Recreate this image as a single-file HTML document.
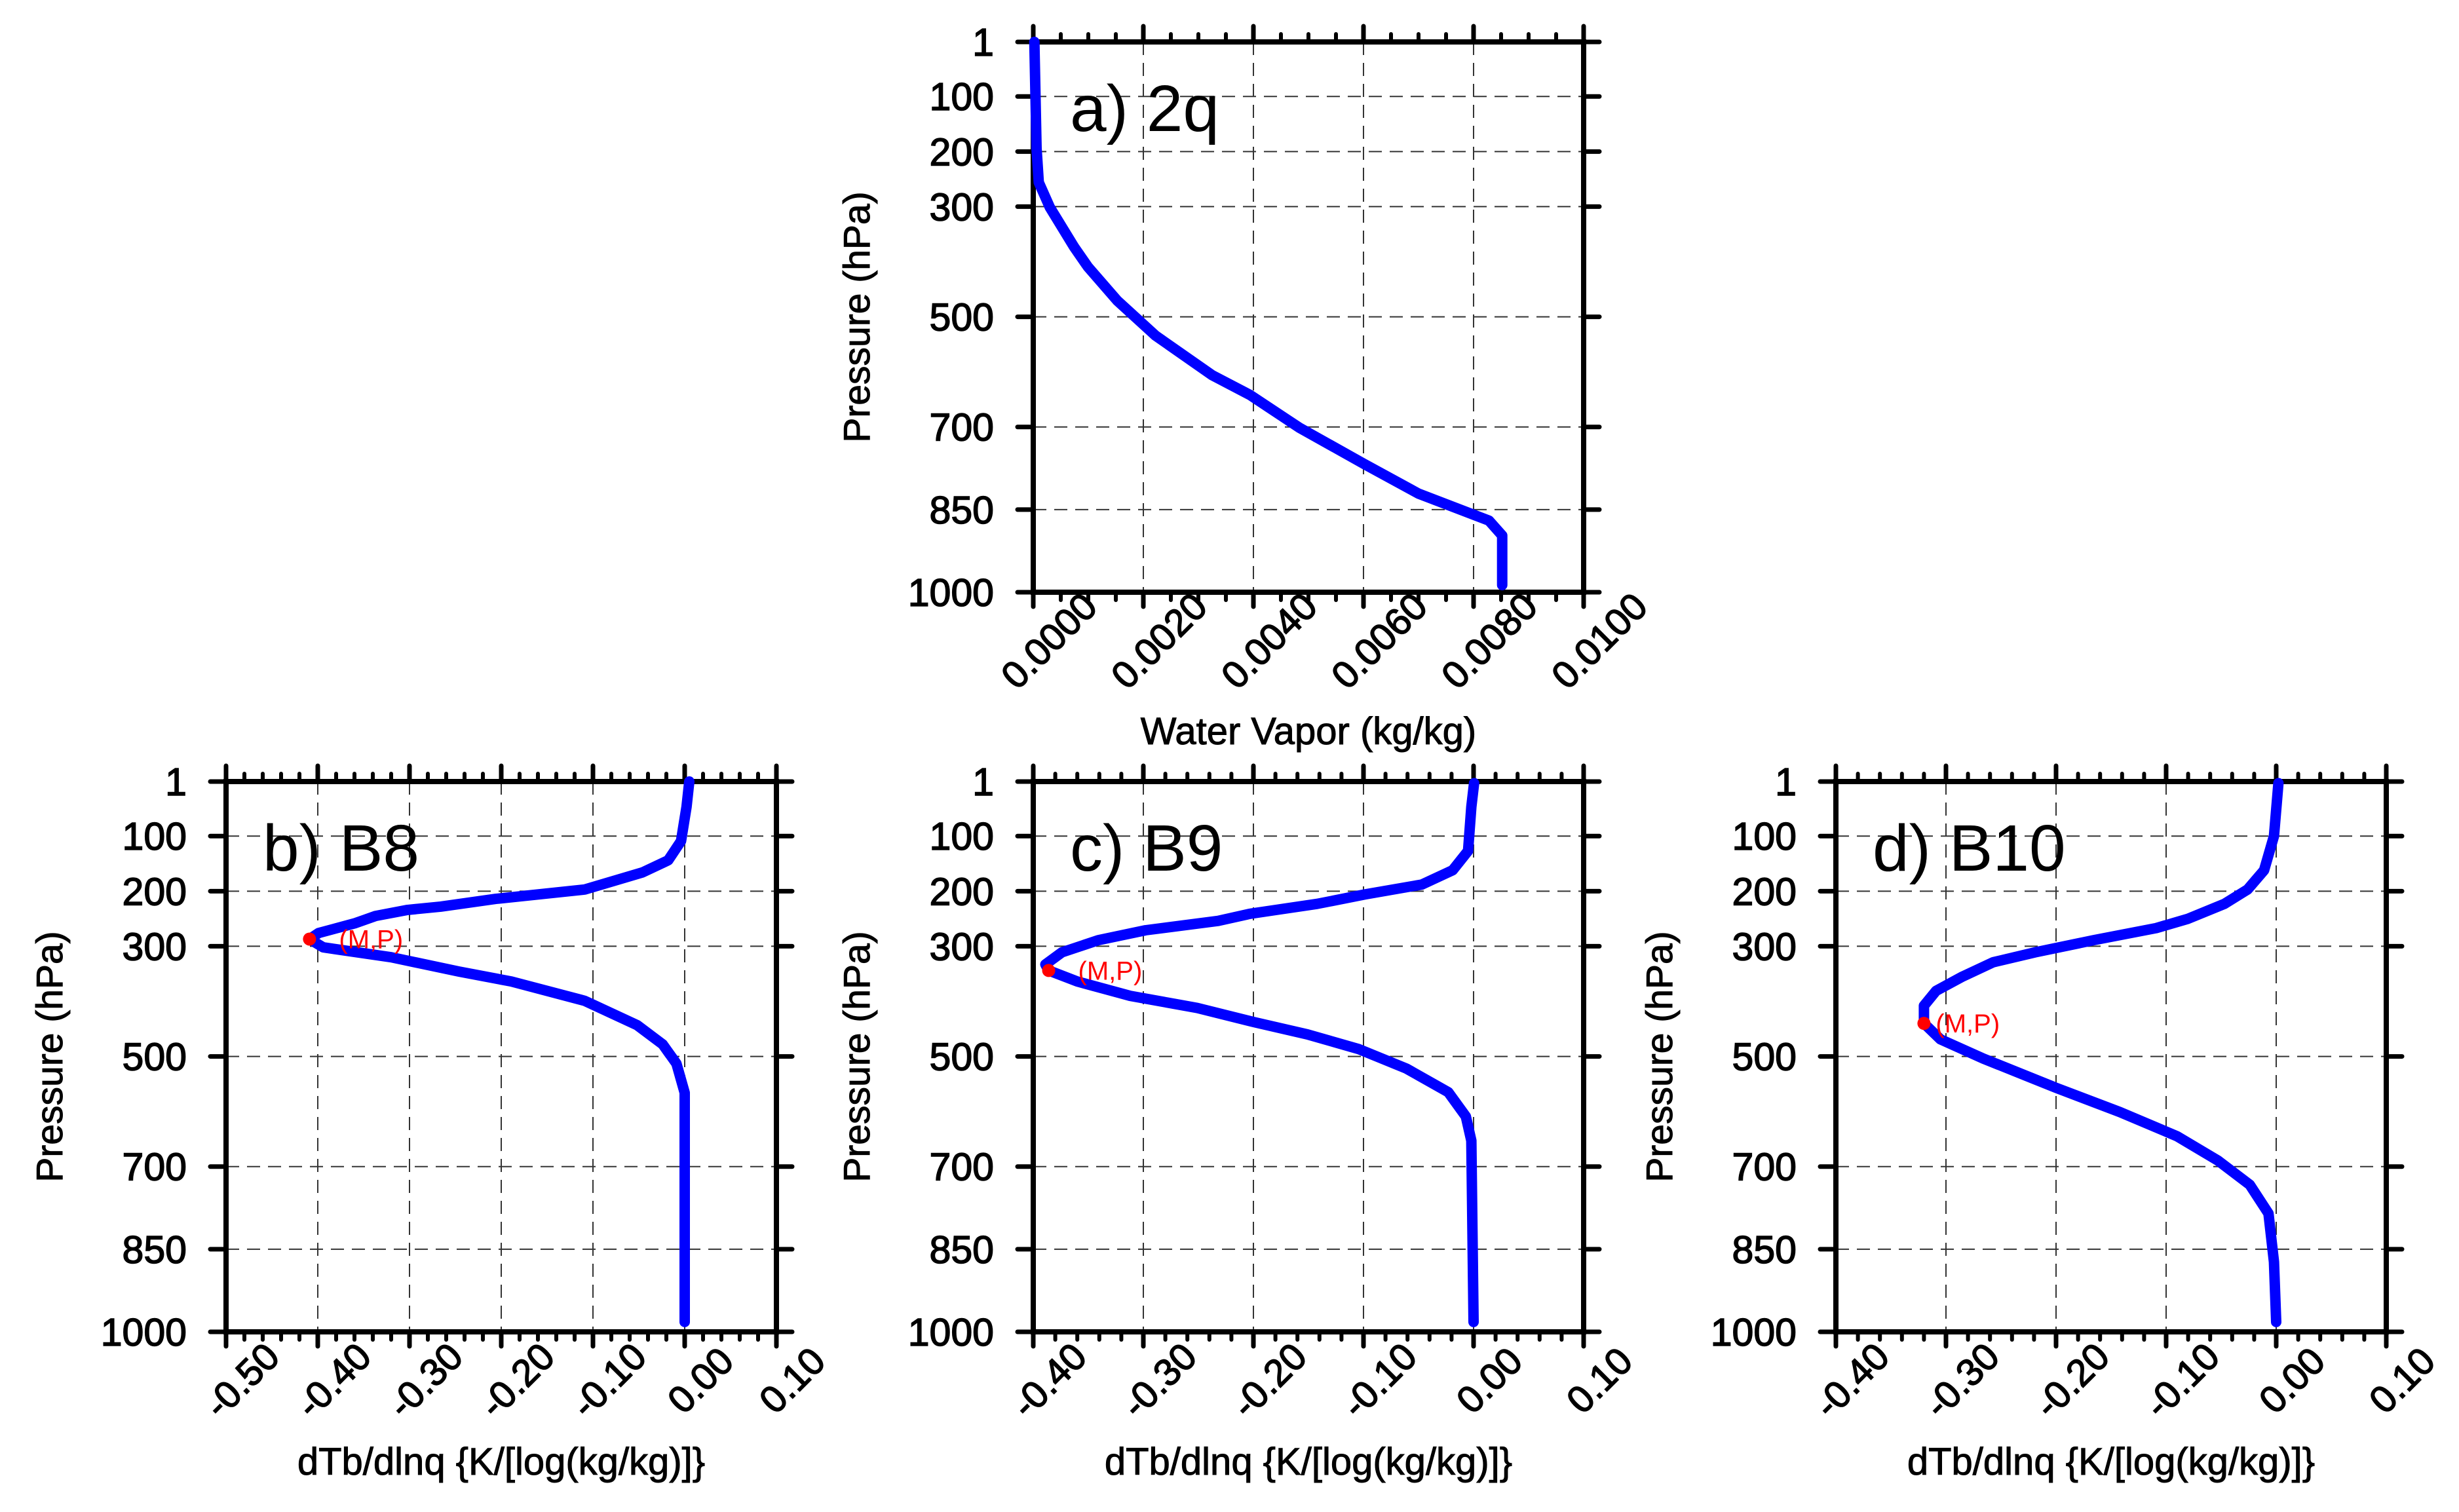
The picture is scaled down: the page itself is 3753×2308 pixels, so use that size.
<!DOCTYPE html>
<html><head><meta charset="utf-8"><style>
html,body{margin:0;padding:0;background:#fff}
svg{display:block}
text{font-family:"Liberation Sans",sans-serif}
</style></head><body>
<svg id="fig" width="3753" height="2308" viewBox="0 0 3753 2308" xmlns="http://www.w3.org/2000/svg"></svg>
<script>
// ---- data ----
const yTicks = [1,100,200,300,500,700,850,1000];
// panel a: water vapor profile
const aP = [1,194,256,301,373,409,471,534,606,642,701,767,821,870,897,987];
const aQ = [0.00002,0.00006,0.0001,0.0003,0.00074,0.00099,0.00153,0.00222,0.00325,0.00394,0.00483,0.00601,0.007,0.00828,0.00852,0.00852];
const aXTicks = ["0.0000","0.0020","0.0040","0.0060","0.0080","0.0100"];
// panel b: B8
const bP = [1,47,109,144,166,197,214,228,234,245,258,276,287,302,320,346,364,399,443,478,513,566,982];
const bV = [0.005,0.002,-0.004,-0.018,-0.046,-0.109,-0.206,-0.266,-0.302,-0.337,-0.359,-0.399,-0.409,-0.394,-0.320,-0.246,-0.189,-0.109,-0.052,-0.024,-0.009,0.0,0.0];
const bMark = [-0.409,287];
const bXTicks = ["-0.50","-0.40","-0.30","-0.20","-0.10","0.00","0.10"];
// panel c: B9
const cP = [4,47,127,162,188,206,223,241,254,271,289,311,333,344,364,390,412,438,460,487,522,565,609,653,982];
const cV = [0.0005,-0.002,-0.005,-0.019,-0.047,-0.099,-0.142,-0.203,-0.232,-0.298,-0.341,-0.374,-0.389,-0.386,-0.360,-0.312,-0.251,-0.199,-0.151,-0.104,-0.061,-0.023,-0.007,-0.002,0.0];
const cMark = [-0.386,344];
const cXTicks = ["-0.40","-0.30","-0.20","-0.10","0.00","0.10"];
// panel d: B10
const dP = [4,100,162,197,223,250,267,289,311,329,355,381,408,440,469,504,557,601,645,689,733,785,873,982];
const dV = [0.002,-0.002,-0.011,-0.026,-0.047,-0.080,-0.109,-0.166,-0.219,-0.257,-0.285,-0.309,-0.320,-0.320,-0.305,-0.266,-0.200,-0.142,-0.090,-0.053,-0.024,-0.007,-0.002,0.0];
const dMark = [-0.320,440];
const dXTicks = ["-0.40","-0.30","-0.20","-0.10","0.00","0.10"];

const NS = "http://www.w3.org/2000/svg";
const svg = document.getElementById('fig');
function mk(tag, attrs, parent){
  const e = document.createElementNS(NS, tag);
  for (const k in attrs) e.setAttribute(k, attrs[k]);
  (parent||svg).appendChild(e);
  return e;
}

function panel(cfg){
  const g = mk('g', {});
  
  
  const L=cfg.left, R=cfg.left+840, T=cfg.top, B=cfg.top+840;
  const xs = v => L + (v - cfg.xmin)/(cfg.xmax - cfg.xmin)*(R-L);
  const ys = p => T + (p - 1)/(1000 - 1)*(B-T);
  const nMaj = cfg.xticks.length;
  yTicks.forEach((p,i)=>{
    if(i===0||i===yTicks.length-1) return;
    const l = mk('line',{x1:L,x2:R,y1:ys(p),y2:ys(p),stroke:'#333','stroke-width':2,'stroke-dasharray':'20 12'},g);
    
    
  });
  cfg.xticks.forEach((t,i)=>{
    if(i===0||i===nMaj-1) return;
    const x = xs(parseFloat(t));
    const l = mk('line',{x1:x,x2:x,y1:T,y2:B,stroke:'#333','stroke-width':2,'stroke-dasharray':'20 12'},g);
    
    
  });
  const step = parseFloat(cfg.xticks[1]) - parseFloat(cfg.xticks[0]);
  for(let i=0;i<nMaj;i++){
    const v0 = parseFloat(cfg.xticks[i]);
    const x = xs(v0);
    mk('line',{x1:x,x2:x,y1:T-24,y2:T,stroke:'#000','stroke-width':7,'stroke-linecap':'round'},g);
    mk('line',{x1:x,x2:x,y1:B,y2:B+22,stroke:'#000','stroke-width':7,'stroke-linecap':'round'},g);
    if(i<nMaj-1){
      for(let k=1;k<cfg.minor+1;k++){
        const xm = xs(v0 + step*k/(cfg.minor+1));
        mk('line',{x1:xm,x2:xm,y1:T-12,y2:T,stroke:'#000','stroke-width':6,'stroke-linecap':'round'},g);
        mk('line',{x1:xm,x2:xm,y1:B,y2:B+12,stroke:'#000','stroke-width':6,'stroke-linecap':'round'},g);
      }
    }
    const cx = x + 24, cy = B + 74;
    const t = mk('text',{x:cx,y:cy+20,'font-size':58,'text-anchor':'middle',stroke:'#000','stroke-width':1.5,transform:`rotate(-45 ${cx} ${cy})`},g);
    t.textContent = cfg.xticks[i];
    
    
  }
  yTicks.forEach(p=>{
    const y = ys(p);
    mk('line',{x1:L-24,x2:L,y1:y,y2:y,stroke:'#000','stroke-width':7,'stroke-linecap':'round'},g);
    mk('line',{x1:R,x2:R+24,y1:y,y2:y,stroke:'#000','stroke-width':7,'stroke-linecap':'round'},g);
    const t = mk('text',{x:L-60,y:y+21,'font-size':59,'text-anchor':'end',stroke:'#000','stroke-width':1.5},g);
    t.textContent = p;
    
    
  });
  const fr = mk('rect',{x:L,y:T,width:R-L,height:B-T,fill:'none',stroke:'#000','stroke-width':8},g);
  
  
  const pts = cfg.P.map((p,i)=>xs(cfg.V[i]).toFixed(1)+','+ys(p).toFixed(1)).join(' ');
  const line = mk('polyline',{points:pts,fill:'none',stroke:'#0000ff','stroke-width':16,'stroke-linejoin':'round','stroke-linecap':'round'},g);
  
  
  if(cfg.mark){
    const c = mk('circle',{cx:xs(cfg.mark[0]),cy:ys(cfg.mark[1]),r:10,fill:'#ff0000'},g);
    
    
    const t = mk('text',{x:xs(cfg.mark[0])+cfg.markOff,y:ys(cfg.mark[1])+14,'font-size':40,fill:'#ff0000'},g);
    t.textContent='(M,P)';
    
    
  }
  const tt = mk('text',{x:L+56,y:T+136,'font-size':100},g);
  tt.textContent = cfg.title;
  
  
  const yt = mk('text',{x:L-250,y:(T+B)/2,'font-size':57,'text-anchor':'middle',stroke:'#000','stroke-width':1,transform:`rotate(-90 ${L-250} ${(T+B)/2})`},g);
  yt.textContent='Pressure (hPa)';
  
  
  const xt = mk('text',{x:(L+R)/2,y:B+cfg.xtOff,'font-size':58,'text-anchor':'middle',stroke:'#000','stroke-width':1},g);
  xt.textContent=cfg.xtitle;
  
  
}

panel({name:'panel-a-2q',left:1577,top:64,xmin:0,xmax:0.01,xticks:aXTicks,minor:3,P:aP,V:aQ,title:'a) 2q',xtitle:'Water Vapor (kg/kg)',xtOff:232});
panel({name:'panel-b-b8',left:345,top:1193,xmin:-0.5,xmax:0.1,xticks:bXTicks,minor:4,P:bP,V:bV,mark:bMark,markOff:45,title:'b) B8',xtitle:'dTb/dlnq {K/[log(kg/kg)]}',xtOff:218});
panel({name:'panel-c-b9',left:1577,top:1193,xmin:-0.4,xmax:0.1,xticks:cXTicks,minor:4,P:cP,V:cV,mark:cMark,markOff:45,title:'c) B9',xtitle:'dTb/dlnq {K/[log(kg/kg)]}',xtOff:218});
panel({name:'panel-d-b10',left:2802,top:1193,xmin:-0.4,xmax:0.1,xticks:dXTicks,minor:4,P:dP,V:dV,mark:dMark,markOff:18,title:'d) B10',xtitle:'dTb/dlnq {K/[log(kg/kg)]}',xtOff:218});
</script>
</body></html>
